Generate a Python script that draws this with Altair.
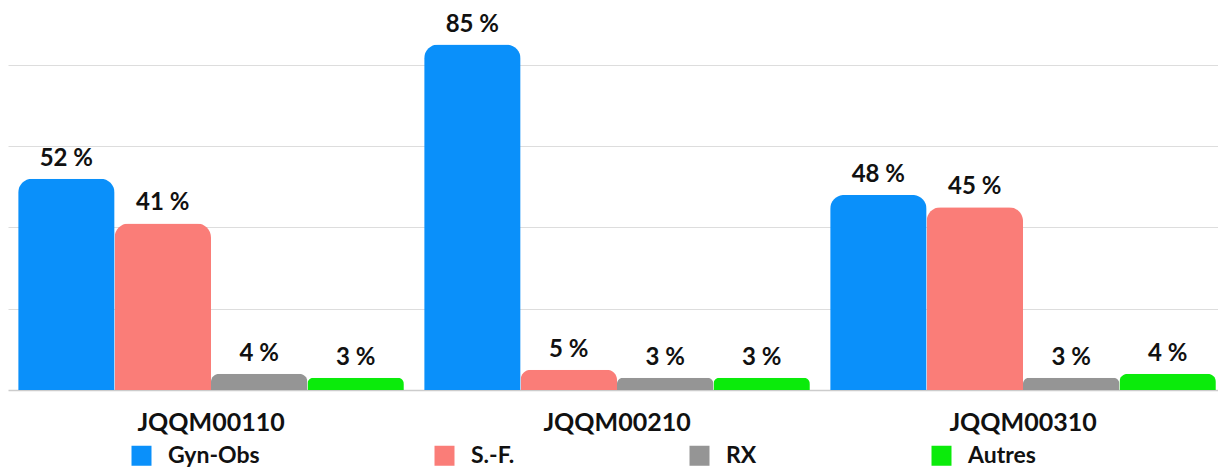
import altair as alt
import pandas as pd

groups = ["JQQM00110", "JQQM00210", "JQQM00310"]
series = ["Gyn-Obs", "S.-F.", "RX", "Autres"]
colors = ["#0A90FA", "#FA7D78", "#959595", "#0BEB0B"]
gyn_obs = [52, 85, 48]
sf = [41, 5, 45]
rx = [4, 3, 3]
autres = [3, 3, 4]

values = {"Gyn-Obs": gyn_obs, "S.-F.": sf, "RX": rx, "Autres": autres}
rows = []
for s in series:
    for g, v in zip(groups, values[s]):
        rows.append({"groupe": g, "serie": s, "valeur": v, "label": f"{v} %"})
df = pd.DataFrame(rows)

FONT = "Lato"

x = alt.X("groupe:N", sort=groups, title=None,
          scale=alt.Scale(range=[0, 1218], paddingInner=0.05, paddingOuter=0.025),
          axis=alt.Axis(labelAngle=0, labelFontSize=25, labelFontWeight="bold",
                        labelColor="#111111", labelPadding=20, ticks=False,
                        domainColor="#cccccc", domainWidth=1.5, labelFont=FONT))
xo = alt.XOffset("serie:N", sort=series, scale=alt.Scale(paddingInner=0, paddingOuter=0))
y = alt.Y("valeur:Q", title=None,
          scale=alt.Scale(domain=[0, 94], nice=False),
          axis=alt.Axis(values=[20, 40, 60, 80], labels=False, ticks=False, domain=False,
                        gridColor="#dddddd", gridWidth=1))

base = alt.Chart(df)

radius = alt.expr("datum.valeur < 10 ? 2.4 * datum.valeur : 14")

bars = base.mark_bar(cornerRadiusTopLeft=radius, cornerRadiusTopRight=radius).encode(
    x=x, xOffset=xo, y=y,
    color=alt.Color("serie:N", sort=series,
                    scale=alt.Scale(domain=series, range=colors),
                    legend=alt.Legend(orient="none", legendX=122, legendY=436,
                                      direction="horizontal", title=None,
                                      symbolType="square", symbolSize=400,
                                      symbolOpacity=1, symbolStrokeWidth=0,
                                      labelFontSize=23, labelFontWeight="bold",
                                      labelColor="#111111", labelFont=FONT,
                                      labelOffset=15, columnPadding=173,
                                      labelLimit=300)),
)

texts = base.mark_text(dy=-8, fontSize=24, fontWeight="bold", color="#111111",
                       font=FONT, baseline="bottom").encode(
    x=x, xOffset=xo, y=y, text="label:N"
)

chart = (bars + texts).properties(
    width=1210, height=382,
    padding={"left": 0, "top": 0, "right": 0, "bottom": 78},
    autosize=alt.AutoSizeParams(type="none"),
).configure_view(stroke=None).configure_axisX(grid=False)

chart.save("out.html", embed_options={"renderer": "svg", "actions": False})
